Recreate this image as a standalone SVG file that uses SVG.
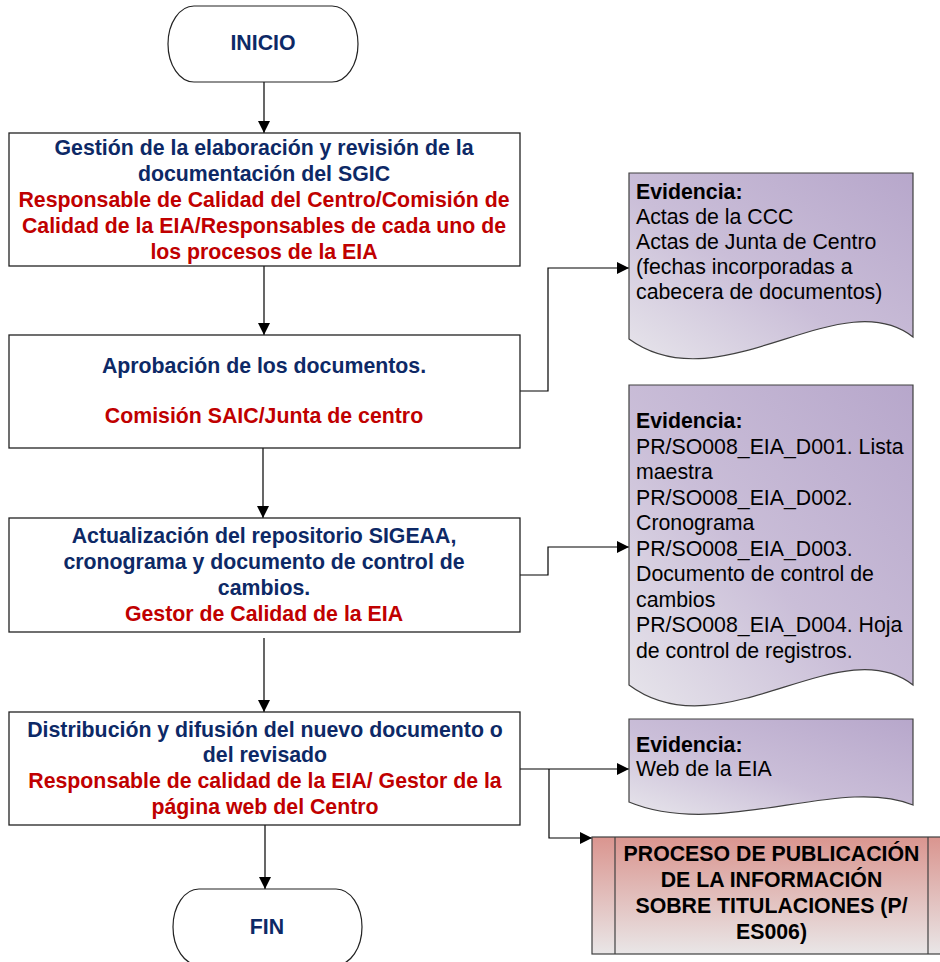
<svg xmlns="http://www.w3.org/2000/svg" width="940" height="962" viewBox="0 0 940 962">
<defs>
<style>
text{font-family:"Liberation Sans",Arial,sans-serif;font-size:21.3px}
.b{font-weight:bold}
.nv{fill:#0D2966;font-weight:bold}
.rd{fill:#C00000;font-weight:bold}
.ev{fill:#000}
.box{fill:#fff;stroke:#222;stroke-width:1.3}
.term{fill:#fff;stroke:#222;stroke-width:1.2}
.doc{fill:url(#gEv);stroke:#404040;stroke-width:1.2}
.proc{fill:url(#gPr);stroke:#404040;stroke-width:1.2}
.c{fill:none;stroke:#000;stroke-width:1.2}
.m{text-anchor:middle}
</style>
<linearGradient id="gEv" x1="0" y1="1" x2="1" y2="0">
<stop offset="0" stop-color="#E7E5EB"/>
<stop offset="0.45" stop-color="#CABED8"/>
<stop offset="1" stop-color="#B7A7CB"/>
</linearGradient>
<linearGradient id="gPr" x1="0" y1="0" x2="0" y2="1">
<stop offset="0" stop-color="#DA958F"/>
<stop offset="1" stop-color="#E9E6E7"/>
</linearGradient>
<marker id="ah" viewBox="0 0 12 12" refX="12" refY="6" markerWidth="12" markerHeight="12" markerUnits="userSpaceOnUse" orient="auto">
<path d="M0,0 L12,6 L0,12 Z" fill="#000"/>
</marker>
</defs>

<g id="connectors">
<path class="c" d="M264,82 V133" marker-end="url(#ah)"/>
<path class="c" d="M264,266 V335" marker-end="url(#ah)"/>
<path class="c" d="M263,448 V518" marker-end="url(#ah)"/>
<path class="c" d="M264,638 V712" marker-end="url(#ah)"/>
<path class="c" d="M265,825 V889" marker-end="url(#ah)"/>
<path class="c" d="M520,391 H548 V268 H629" marker-end="url(#ah)"/>
<path class="c" d="M520,575 H548 V547 H629" marker-end="url(#ah)"/>
<path class="c" d="M520,769 H629" marker-end="url(#ah)"/>
<path class="c" d="M549,769 V838 H592" marker-end="url(#ah)"/>
</g>

<g id="inicio">
<rect class="term" x="168" y="6" width="190" height="76" rx="26" ry="38"/>
<text class="nv m" x="263" y="50">INICIO</text>
</g>

<g id="gestion">
<rect class="box" x="9" y="133" width="511" height="133"/>
<text class="nv m" x="264" y="155">Gestión de la elaboración y revisión de la</text>
<text class="nv m" x="264" y="181">documentación del SGIC</text>
<text class="rd m" x="264" y="207">Responsable de Calidad del Centro/Comisión de</text>
<text class="rd m" x="264" y="233">Calidad de la EIA/Responsables de cada uno de</text>
<text class="rd m" x="264" y="259">los procesos de la EIA</text>
</g>

<g id="aprobacion">
<rect class="box" x="9" y="335" width="511" height="113"/>
<text class="nv m" x="264" y="373">Aprobación de los documentos.</text>
<text class="rd m" x="264" y="423">Comisión SAIC/Junta de centro</text>
</g>

<g id="actualizacion">
<rect class="box" x="9" y="518" width="511" height="114"/>
<text class="nv m" x="264" y="543">Actualización del repositorio SIGEAA,</text>
<text class="nv m" x="264" y="569">cronograma y documento de control de</text>
<text class="nv m" x="264" y="595">cambios.</text>
<text class="rd m" x="264" y="621">Gestor de Calidad de la EIA</text>
</g>

<g id="distribucion">
<rect class="box" x="9" y="712" width="511" height="113"/>
<text class="nv m" x="265" y="737">Distribución y difusión del nuevo documento o</text>
<text class="nv m" x="265" y="762">del revisado</text>
<text class="rd m" x="265" y="788">Responsable de calidad de la EIA/ Gestor de la</text>
<text class="rd m" x="265" y="814">página web del Centro</text>
</g>

<g id="fin">
<rect class="term" x="173" y="889" width="189" height="76" rx="26" ry="38"/>
<text class="nv m" x="267" y="934">FIN</text>
</g>

<g id="evidencia1">
<path class="doc" d="M629,173 H913 V337 C840,280 720,405 629,339 Z"/>
<text class="ev b" x="636" y="199">Evidencia:</text>
<text class="ev" x="636" y="224">Actas de la CCC</text>
<text class="ev" x="636" y="249">Actas de Junta de Centro</text>
<text class="ev" x="636" y="274">(fechas incorporadas a</text>
<text class="ev" x="636" y="299">cabecera de documentos)</text>
</g>

<g id="evidencia2">
<path class="doc" d="M629,385 H913 V685 C840,628 720,753 629,685 Z"/>
<text class="ev b" x="636" y="428">Evidencia:</text>
<text class="ev" x="636" y="453.5">PR/SO008_EIA_D001. Lista</text>
<text class="ev" x="636" y="479">maestra</text>
<text class="ev" x="636" y="504.5">PR/SO008_EIA_D002.</text>
<text class="ev" x="636" y="530">Cronograma</text>
<text class="ev" x="636" y="555.5">PR/SO008_EIA_D003.</text>
<text class="ev" x="636" y="581">Documento de control de</text>
<text class="ev" x="636" y="606.5">cambios</text>
<text class="ev" x="636" y="632">PR/SO008_EIA_D004. Hoja</text>
<text class="ev" x="636" y="657.5">de control de registros.</text>
</g>

<g id="evidencia3">
<path class="doc" d="M629,719 H913 V805 C840,775 720,840 629,802 Z"/>
<text class="ev b" x="636" y="752">Evidencia:</text>
<text class="ev" x="636" y="776">Web de la EIA</text>
</g>

<g id="proceso">
<rect class="proc" x="592" y="837" width="359" height="117"/>
<line x1="615" y1="837" x2="615" y2="954" stroke="#404040" stroke-width="1.2"/>
<line x1="928" y1="837" x2="928" y2="954" stroke="#404040" stroke-width="1.2"/>
<text class="b m" x="771.5" y="861" fill="#000">PROCESO DE PUBLICACIÓN</text>
<text class="b m" x="771.5" y="887" fill="#000">DE LA INFORMACIÓN</text>
<text class="b m" x="771.5" y="913" fill="#000">SOBRE TITULACIONES (P/</text>
<text class="b m" x="771.5" y="939" fill="#000">ES006)</text>
</g>
</svg>
